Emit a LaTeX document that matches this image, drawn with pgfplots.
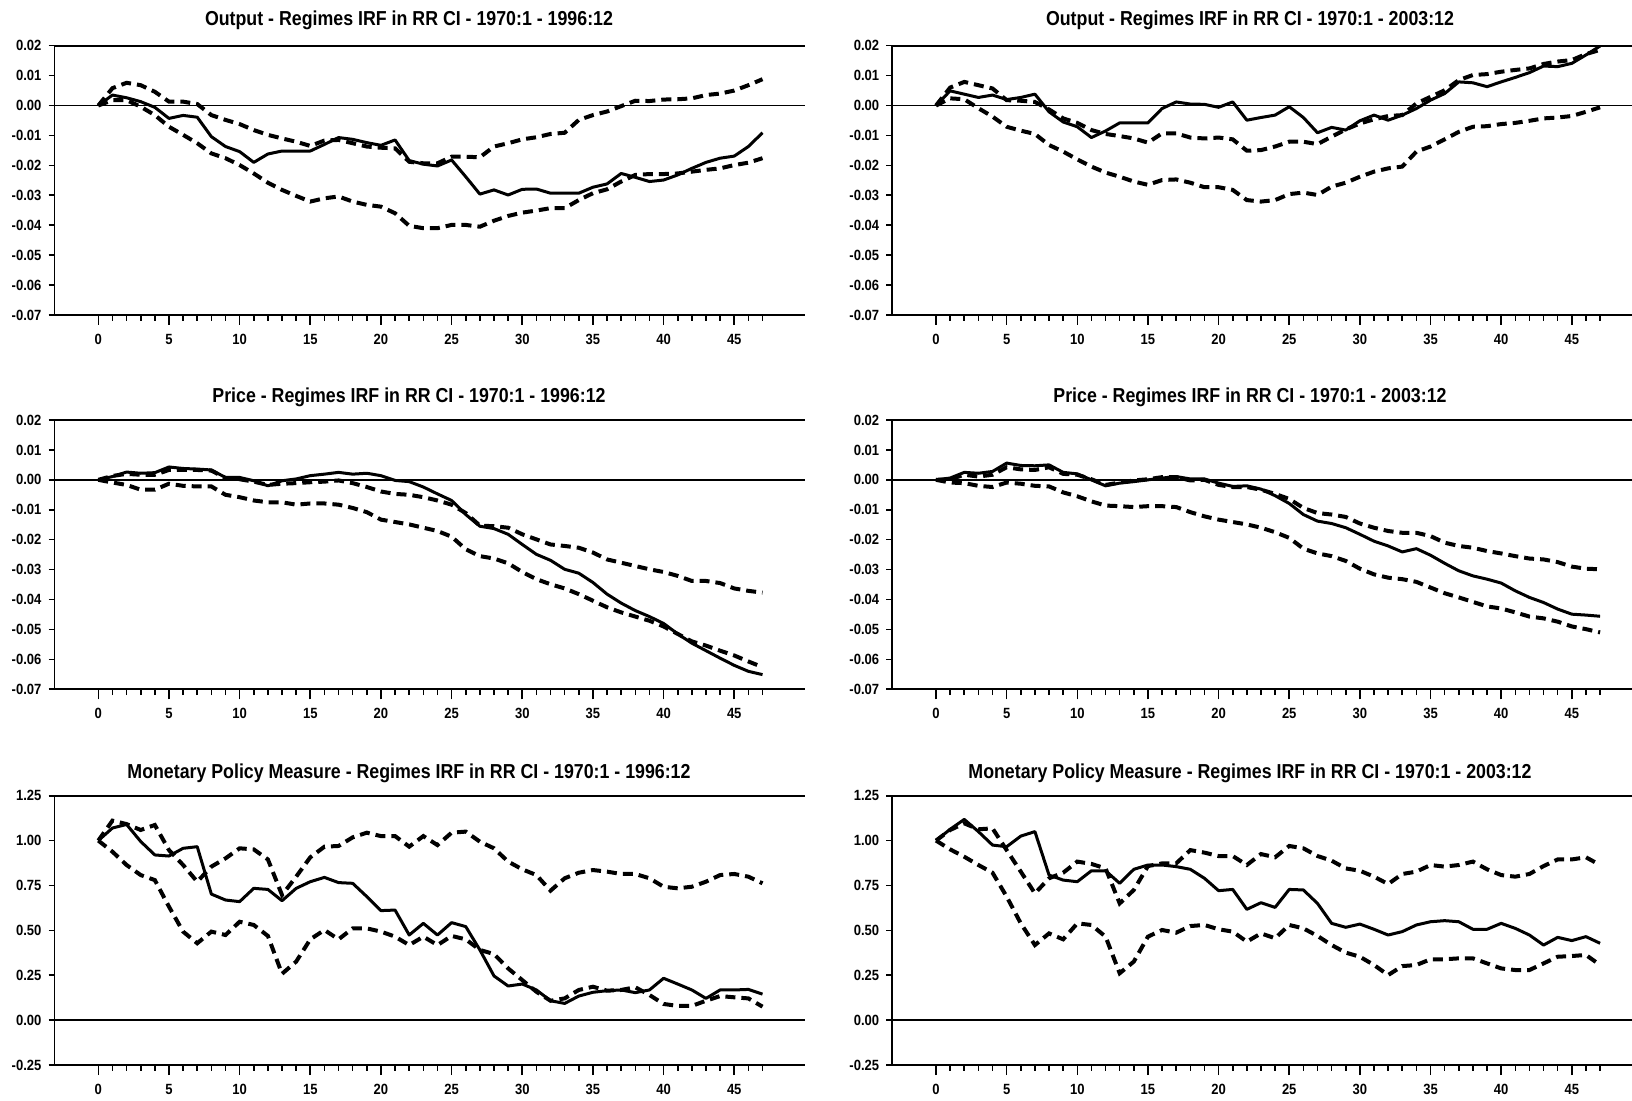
\documentclass[border=0pt]{standalone}
\usepackage{fontspec}
\setmainfont{Liberation Sans}[FakeStretch=0.88]
\usepackage{pgfplots}
\usepackage{pgfplotstable}
\pgfplotsset{compat=1.18}

\pgfplotstableread{
x up mid lo
0 0 0 0
1 0.0058 0.0035 0.0018
2 0.0076 0.0026 0.0018
3 0.0068 0.0013 -0.0004
4 0.0046 -0.0006 -0.0032
5 0.0013 -0.0043 -0.0071
6 0.0013 -0.0033 -0.0098
7 0.0005 -0.0039 -0.0126
8 -0.0032 -0.0104 -0.0160
9 -0.0048 -0.0137 -0.0176
10 -0.0062 -0.0154 -0.0199
11 -0.0082 -0.0190 -0.0227
12 -0.0098 -0.0162 -0.0258
13 -0.0110 -0.0152 -0.0282
14 -0.0121 -0.0152 -0.0302
15 -0.0135 -0.0152 -0.0321
16 -0.0117 -0.0130 -0.0310
17 -0.0115 -0.0107 -0.0304
18 -0.0126 -0.0113 -0.0321
19 -0.0137 -0.0124 -0.0332
20 -0.0141 -0.0133 -0.0338
21 -0.0143 -0.0115 -0.0360
22 -0.0188 -0.0184 -0.0402
23 -0.0193 -0.0196 -0.0410
24 -0.0193 -0.0202 -0.0410
25 -0.0171 -0.0182 -0.0399
26 -0.0171 -0.0238 -0.0399
27 -0.0173 -0.0296 -0.0405
28 -0.0137 -0.0282 -0.0385
29 -0.0126 -0.0299 -0.0369
30 -0.0113 -0.0280 -0.0358
31 -0.0106 -0.0279 -0.0351
32 -0.0095 -0.0293 -0.0343
33 -0.0091 -0.0293 -0.0343
34 -0.0048 -0.0293 -0.0316
35 -0.0032 -0.0273 -0.0293
36 -0.0020 -0.0262 -0.0280
37 -0.0002 -0.0227 -0.0254
38 0.0016 -0.0240 -0.0232
39 0.0015 -0.0254 -0.0229
40 0.0020 -0.0249 -0.0229
41 0.0021 -0.0232 -0.0227
42 0.0024 -0.0210 -0.0221
43 0.0035 -0.0190 -0.0215
44 0.0040 -0.0176 -0.0210
45 0.0050 -0.0169 -0.0199
46 0.0068 -0.0137 -0.0191
47 0.0088 -0.0091 -0.0176
}\outA

\pgfplotstableread{
x up mid lo
0 0 0 0
1 0.0060 0.0049 0.0024
2 0.0079 0.0038 0.0021
3 0.0068 0.0027 -0.0009
4 0.0057 0.0035 -0.0037
5 0.0018 0.0020 -0.0071
6 0.0016 0.0027 -0.0084
7 0.0012 0.0038 -0.0095
8 -0.0013 -0.0021 -0.0132
9 -0.0043 -0.0055 -0.0154
10 -0.0058 -0.0071 -0.0180
11 -0.0082 -0.0107 -0.0204
12 -0.0095 -0.0085 -0.0224
13 -0.0102 -0.0058 -0.0238
14 -0.0110 -0.0058 -0.0254
15 -0.0124 -0.0058 -0.0265
16 -0.0093 -0.0010 -0.0249
17 -0.0093 0.0012 -0.0247
18 -0.0107 0.0005 -0.0258
19 -0.0110 0.0004 -0.0273
20 -0.0107 -0.0006 -0.0273
21 -0.0113 0.0012 -0.0282
22 -0.0151 -0.0049 -0.0316
23 -0.0149 -0.0040 -0.0321
24 -0.0137 -0.0032 -0.0316
25 -0.0121 -0.0004 -0.0296
26 -0.0121 -0.0040 -0.0291
27 -0.0129 -0.0091 -0.0299
28 -0.0104 -0.0073 -0.0271
29 -0.0080 -0.0082 -0.0258
30 -0.0060 -0.0051 -0.0238
31 -0.0046 -0.0032 -0.0221
32 -0.0035 -0.0049 -0.0210
33 -0.0032 -0.0032 -0.0204
34 0.0007 -0.0010 -0.0154
35 0.0029 0.0018 -0.0137
36 0.0051 0.0040 -0.0113
37 0.0085 0.0079 -0.0088
38 0.0102 0.0076 -0.0071
39 0.0105 0.0063 -0.0069
40 0.0113 0.0079 -0.0062
41 0.0119 0.0094 -0.0058
42 0.0124 0.0110 -0.0051
43 0.0139 0.0132 -0.0043
44 0.0147 0.0130 -0.0040
45 0.0152 0.0141 -0.0035
46 0.0172 0.0169 -0.0021
47 0.0186 0.0199 -0.0006
}\outB

\pgfplotstableread{
x up mid lo
0 0 0 0
1 0.0013 0.0011 -0.0009
2 0.0020 0.0026 -0.0017
3 0.0017 0.0022 -0.0033
4 0.0017 0.0024 -0.0033
5 0.0033 0.0043 -0.0013
6 0.0033 0.0038 -0.0020
7 0.0033 0.0036 -0.0022
8 0.0031 0.0033 -0.0022
9 0.0006 0.0008 -0.0050
10 0.0002 0.0008 -0.0058
11 -0.0006 -0.0003 -0.0069
12 -0.0017 -0.0020 -0.0075
13 -0.0013 -0.0003 -0.0075
14 -0.0011 0.0003 -0.0083
15 -0.0008 0.0014 -0.0079
16 -0.0006 0.0019 -0.0079
17 -0.0002 0.0025 -0.0083
18 -0.0011 0.0019 -0.0094
19 -0.0024 0.0022 -0.0108
20 -0.0039 0.0014 -0.0133
21 -0.0047 -0.0002 -0.0141
22 -0.0050 -0.0006 -0.0149
23 -0.0058 -0.0024 -0.0160
24 -0.0069 -0.0047 -0.0171
25 -0.0083 -0.0069 -0.0190
26 -0.0111 -0.0116 -0.0232
27 -0.0153 -0.0155 -0.0255
28 -0.0155 -0.0163 -0.0263
29 -0.0160 -0.0182 -0.0279
30 -0.0182 -0.0216 -0.0308
31 -0.0199 -0.0249 -0.0332
32 -0.0216 -0.0269 -0.0349
33 -0.0221 -0.0299 -0.0363
34 -0.0227 -0.0312 -0.0382
35 -0.0243 -0.0343 -0.0404
36 -0.0266 -0.0382 -0.0426
37 -0.0277 -0.0412 -0.0443
38 -0.0288 -0.0437 -0.0457
39 -0.0299 -0.0457 -0.0471
40 -0.0308 -0.0480 -0.0490
41 -0.0321 -0.0515 -0.0515
42 -0.0338 -0.0546 -0.0540
43 -0.0338 -0.0571 -0.0554
44 -0.0345 -0.0596 -0.0571
45 -0.0363 -0.0620 -0.0587
46 -0.0371 -0.0640 -0.0607
47 -0.0377 -0.0651 -0.0626
}\priA

\pgfplotstableread{
x up mid lo
0 0 0 0
1 0.0002 0.0006 -0.0009
2 0.0017 0.0025 -0.0011
3 0.0011 0.0022 -0.0020
4 0.0017 0.0028 -0.0024
5 0.0042 0.0056 -0.0009
6 0.0035 0.0048 -0.0013
7 0.0033 0.0047 -0.0020
8 0.0042 0.0050 -0.0022
9 0.0020 0.0025 -0.0042
10 0.0017 0.0020 -0.0055
11 0.0002 0.0000 -0.0072
12 -0.0017 -0.0020 -0.0086
13 -0.0009 -0.0011 -0.0088
14 -0.0002 -0.0006 -0.0091
15 0.0002 0.0000 -0.0088
16 0.0009 0.0006 -0.0088
17 0.0009 0.0011 -0.0091
18 -0.0002 0.0003 -0.0108
19 0.0000 0.0003 -0.0122
20 -0.0017 -0.0011 -0.0133
21 -0.0024 -0.0022 -0.0141
22 -0.0024 -0.0020 -0.0149
23 -0.0033 -0.0031 -0.0160
24 -0.0047 -0.0053 -0.0175
25 -0.0064 -0.0079 -0.0194
26 -0.0094 -0.0116 -0.0230
27 -0.0111 -0.0138 -0.0246
28 -0.0116 -0.0146 -0.0255
29 -0.0124 -0.0160 -0.0271
30 -0.0146 -0.0182 -0.0297
31 -0.0160 -0.0205 -0.0316
32 -0.0171 -0.0221 -0.0327
33 -0.0177 -0.0241 -0.0332
34 -0.0177 -0.0230 -0.0341
35 -0.0188 -0.0252 -0.0360
36 -0.0210 -0.0279 -0.0379
37 -0.0221 -0.0304 -0.0393
38 -0.0227 -0.0321 -0.0408
39 -0.0238 -0.0332 -0.0423
40 -0.0246 -0.0345 -0.0430
41 -0.0255 -0.0371 -0.0443
42 -0.0263 -0.0393 -0.0457
43 -0.0266 -0.0410 -0.0463
44 -0.0275 -0.0432 -0.0474
45 -0.0290 -0.0449 -0.0490
46 -0.0297 -0.0452 -0.0499
47 -0.0299 -0.0456 -0.0510
}\priB

\pgfplotstableread{
x up mid lo
0 1.000 1.000 1.000
1 1.111 1.070 0.938
2 1.092 1.090 0.864
3 1.059 0.995 0.808
4 1.087 0.920 0.780
5 0.947 0.914 0.632
6 0.864 0.957 0.493
7 0.771 0.966 0.428
8 0.855 0.702 0.493
9 0.901 0.669 0.474
10 0.957 0.660 0.548
11 0.951 0.734 0.530
12 0.895 0.728 0.469
13 0.697 0.665 0.258
14 0.799 0.734 0.326
15 0.907 0.771 0.450
16 0.966 0.795 0.502
17 0.970 0.766 0.450
18 1.018 0.762 0.511
19 1.044 0.688 0.511
20 1.025 0.610 0.493
21 1.025 0.613 0.465
22 0.966 0.474 0.418
23 1.025 0.539 0.465
24 0.975 0.474 0.418
25 1.044 0.543 0.469
26 1.050 0.521 0.450
27 0.994 0.391 0.391
28 0.957 0.246 0.368
29 0.883 0.190 0.288
30 0.840 0.201 0.223
31 0.808 0.168 0.158
32 0.721 0.108 0.108
33 0.790 0.093 0.121
34 0.821 0.134 0.168
35 0.836 0.155 0.186
36 0.827 0.164 0.164
37 0.814 0.168 0.168
38 0.814 0.153 0.183
39 0.790 0.168 0.140
40 0.743 0.233 0.090
41 0.734 0.201 0.079
42 0.743 0.168 0.079
43 0.771 0.121 0.108
44 0.808 0.168 0.134
45 0.814 0.168 0.127
46 0.799 0.171 0.121
47 0.762 0.145 0.075
}\monA

\pgfplotstableread{
x up mid lo
0 1.000 1.000 1.000
1 1.059 1.063 0.951
2 1.096 1.118 0.910
3 1.063 1.050 0.864
4 1.068 0.975 0.821
5 0.947 0.966 0.688
6 0.827 1.025 0.539
7 0.706 1.050 0.418
8 0.790 0.808 0.483
9 0.821 0.780 0.450
10 0.883 0.771 0.539
11 0.870 0.832 0.530
12 0.845 0.832 0.465
13 0.650 0.762 0.261
14 0.725 0.840 0.326
15 0.858 0.864 0.465
16 0.873 0.864 0.502
17 0.873 0.855 0.487
18 0.947 0.840 0.524
19 0.933 0.790 0.530
20 0.914 0.721 0.506
21 0.914 0.728 0.493
22 0.864 0.617 0.437
23 0.925 0.654 0.483
24 0.907 0.628 0.456
25 0.970 0.728 0.530
26 0.957 0.725 0.511
27 0.914 0.650 0.469
28 0.888 0.539 0.418
29 0.845 0.517 0.376
30 0.832 0.535 0.353
31 0.799 0.506 0.307
32 0.758 0.474 0.251
33 0.814 0.493 0.301
34 0.827 0.530 0.307
35 0.864 0.548 0.339
36 0.855 0.554 0.339
37 0.864 0.548 0.344
38 0.883 0.506 0.344
39 0.840 0.506 0.316
40 0.808 0.539 0.288
41 0.799 0.511 0.279
42 0.814 0.474 0.279
43 0.858 0.418 0.316
44 0.895 0.461 0.353
45 0.895 0.443 0.357
46 0.907 0.465 0.363
47 0.864 0.428 0.307
}\monB

\pgfplotsset{
  irfbase/.style={
    scale only axis, height=134.65pt,
    xmin=-3.1,
    axis x line*=box, axis y line*=left,
    axis line style={line width=0.9pt},
    tick align=outside,
    xtick={0,5,...,45},
    xticklabels={0,5,10,15,20,25,30,35,40,45},
    minor xtick={0,...,47},
    xtick pos=left, ytick pos=left,
    major tick length=3pt, minor tick length=2.9pt,
    tick style={black, line width=0.8pt},
    extra x ticks={0,5,...,45}, extra x tick labels={},
    extra x tick style={major tick length=5pt},
    scaled y ticks=false, scaled x ticks=false,
    tick label style={font=\bfseries\fontsize{7.4}{8}\selectfont},
    xticklabel style={yshift=-3pt},
  },
  irfsmall/.style={ymin=-0.07, ymax=0.02,
    ytick={-0.07,-0.06,-0.05,-0.04,-0.03,-0.02,-0.01,0,0.01,0.02},
    yticklabels={-0.07,-0.06,-0.05,-0.04,-0.03,-0.02,-0.01,0.00,0.01,0.02}},
  irfmon/.style={ymin=-0.25, ymax=1.25,
    ytick={-0.25,0,0.25,0.5,0.75,1,1.25},
    yticklabels={-0.25,0.00,0.25,0.50,0.75,1.00,1.25}},
  leftp/.style={width=375.2pt, xmax=50},
  rightp/.style={width=369.9pt, xmax=49.26},
  solidirf/.style={black, line width=1.5pt, line join=round},
  dashirf/.style={black, line width=2pt, dash pattern=on 5pt off 3pt},
  zeroline/.style={black, line width=0.7pt},
}

\begin{document}
\begin{tikzpicture}
\path[use as bounding box] (0,0) rectangle (816pt,-550.5pt);
\tikzset{ttl/.style={anchor=base, font=\bfseries\fontsize{10.1}{12}\selectfont}}

\node[ttl] at (204.5pt,-13pt) {Output - Regimes IRF in RR CI - 1970:1 - 1996:12};
\node[ttl] at (625pt,-13pt) {Output - Regimes IRF in RR CI - 1970:1 - 2003:12};
\node[ttl] at (204.5pt,-201.35pt) {Price - Regimes IRF in RR CI - 1970:1 - 1996:12};
\node[ttl] at (625pt,-201.35pt) {Price - Regimes IRF in RR CI - 1970:1 - 2003:12};
\node[ttl] at (204.5pt,-389.15pt) {Monetary Policy Measure - Regimes IRF in RR CI - 1970:1 - 1996:12};
\node[ttl] at (625pt,-389.15pt) {Monetary Policy Measure - Regimes IRF in RR CI - 1970:1 - 2003:12};

\begin{axis}[irfbase, irfsmall, leftp, at={(27.25pt,-22.85pt)}, anchor=north west]
\addplot[zeroline] coordinates {(-3.1,0) (50,0)};
\addplot[dashirf] table[x=x,y=up] {\outA};
\addplot[dashirf] table[x=x,y=lo] {\outA};
\addplot[solidirf] table[x=x,y=mid] {\outA};
\end{axis}

\begin{axis}[irfbase, irfsmall, rightp, at={(446.1pt,-22.85pt)}, anchor=north west]
\addplot[zeroline] coordinates {(-3.1,0) (50,0)};
\addplot[dashirf] table[x=x,y=up] {\outB};
\addplot[dashirf] table[x=x,y=lo] {\outB};
\addplot[solidirf] table[x=x,y=mid] {\outB};
\end{axis}

\begin{axis}[irfbase, irfsmall, leftp, at={(27.25pt,-210pt)}, anchor=north west]
\addplot[zeroline] coordinates {(-3.1,0) (50,0)};
\addplot[dashirf] table[x=x,y=up] {\priA};
\addplot[dashirf] table[x=x,y=lo] {\priA};
\addplot[solidirf] table[x=x,y=mid] {\priA};
\end{axis}

\begin{axis}[irfbase, irfsmall, rightp, at={(446.1pt,-210pt)}, anchor=north west]
\addplot[zeroline] coordinates {(-3.1,0) (50,0)};
\addplot[dashirf] table[x=x,y=up] {\priB};
\addplot[dashirf] table[x=x,y=lo] {\priB};
\addplot[solidirf] table[x=x,y=mid] {\priB};
\end{axis}

\begin{axis}[irfbase, irfmon, leftp, at={(27.25pt,-397.85pt)}, anchor=north west]
\addplot[zeroline] coordinates {(-3.1,0) (50,0)};
\addplot[dashirf] table[x=x,y=up] {\monA};
\addplot[dashirf] table[x=x,y=lo] {\monA};
\addplot[solidirf] table[x=x,y=mid] {\monA};
\end{axis}

\begin{axis}[irfbase, irfmon, rightp, at={(446.1pt,-397.85pt)}, anchor=north west]
\addplot[zeroline] coordinates {(-3.1,0) (50,0)};
\addplot[dashirf] table[x=x,y=up] {\monB};
\addplot[dashirf] table[x=x,y=lo] {\monB};
\addplot[solidirf] table[x=x,y=mid] {\monB};
\end{axis}
\end{tikzpicture}
\end{document}
